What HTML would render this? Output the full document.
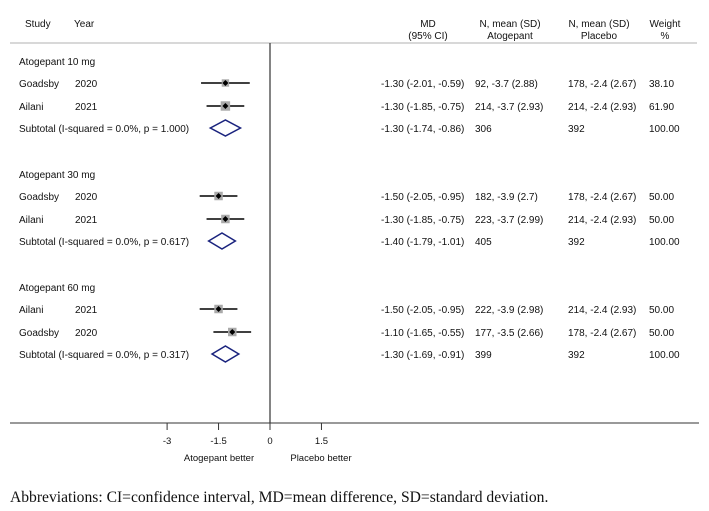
<!DOCTYPE html>
<html><head><meta charset="utf-8"><style>
body{margin:0;background:#fff;width:709px;height:506px;overflow:hidden}
svg text{font-family:"Liberation Sans",sans-serif;font-size:10px;fill:#111}
</style></head><body>
<svg width="709" height="506" id="plot">
<text x="25" y="27">Study</text>
<text x="74" y="27">Year</text>
<text x="428" y="27" text-anchor="middle">MD</text>
<text x="428" y="39" text-anchor="middle">(95% CI)</text>
<text x="510" y="27" text-anchor="middle">N, mean (SD)</text>
<text x="510" y="39" text-anchor="middle">Atogepant</text>
<text x="599" y="27" text-anchor="middle">N, mean (SD)</text>
<text x="599" y="39" text-anchor="middle">Placebo</text>
<text x="665" y="27" text-anchor="middle">Weight</text>
<text x="665" y="39" text-anchor="middle">%</text>
<line x1="10" y1="43" x2="697" y2="43" stroke="#ccc" stroke-width="1.5"/>
<line x1="270" y1="43" x2="270" y2="423" stroke="#333" stroke-width="1.2"/>
<line x1="10" y1="423" x2="699" y2="423" stroke="#333" stroke-width="1"/>
<text x="219" y="461" text-anchor="middle" style="font-size:9.5px">Atogepant better</text>
<text x="321" y="461" text-anchor="middle" style="font-size:9.5px">Placebo better</text>
<text x="10" y="502" style="font-family:'Liberation Serif',serif;font-size:15.6px">Abbreviations: CI=confidence interval, MD=mean difference, SD=standard deviation.</text>
<g id="rows"></g>
</svg>
<script>
const groups=["Atogepant 10 mg","Atogepant 30 mg","Atogepant 60 mg"];
const studies=["Goadsby","Ailani","Goadsby","Ailani","Ailani","Goadsby"];
const years=["2020","2021","2020","2021","2021","2020"];
const md=[-1.30,-1.30,-1.50,-1.30,-1.50,-1.10];
const lo=[-2.01,-1.85,-2.05,-1.85,-2.05,-1.65];
const hi=[-0.59,-0.75,-0.95,-0.75,-0.95,-0.55];
const atoTxt=["92, -3.7 (2.88)","214, -3.7 (2.93)","182, -3.9 (2.7)","223, -3.7 (2.99)","222, -3.9 (2.98)","177, -3.5 (2.66)"];
const plaTxt=["178, -2.4 (2.67)","214, -2.4 (2.93)","178, -2.4 (2.67)","214, -2.4 (2.93)","214, -2.4 (2.93)","178, -2.4 (2.67)"];
const weights=[38.10,61.90,50.00,50.00,50.00,50.00];
const subMd=[-1.30,-1.40,-1.30];
const subLo=[-1.74,-1.79,-1.69];
const subHi=[-0.86,-1.01,-0.91];
const subP=["1.000","0.617","0.317"];
const subAto=["306","405","399"];
const subPla=["392","392","392"];
const ticks=[-3,-1.5,0,1.5];

const NS="http://www.w3.org/2000/svg";
const g=document.getElementById('rows');
const xs=v=>270+v*34.3;
function el(t,a,txt){const e=document.createElementNS(NS,t);for(const k in a)e.setAttribute(k,a[k]);if(txt!==undefined)e.textContent=txt;g.appendChild(e);return e;}
const f=v=>v.toFixed(2);
ticks.forEach(t=>{
  const l=el('line',{x1:xs(t),x2:xs(t),y1:423,y2:430,stroke:'#333'});
  
  
  const tx=el('text',{x:xs(t),y:444,'text-anchor':'middle','style':'font-size:9.5px'},String(t));
  
  
});
groups.forEach((gn,gi)=>{
  const y0=65+gi*113;
  const h=el('text',{x:19,y:y0},gn);
  
  
  for(let k=0;k<2;k++){
    const i=gi*2+k, y=y0+22+k*23;
    const yc=y-4;
    const s=el('text',{x:19,y:y},studies[i]);
    
    
    const yr=el('text',{x:75,y:y},years[i]);
    
    
    const ci=el('line',{x1:xs(lo[i]),x2:xs(hi[i]),y1:yc,y2:yc,stroke:'#000','stroke-width':1.5});
    
    
    const sz=Math.sqrt(weights[i])*1.2;
    const sq=el('rect',{x:xs(md[i])-sz/2,y:yc-sz/2,width:sz,height:sz,fill:'#aaa'});
    
    
    const pt=el('path',{d:`M${xs(md[i])-3},${yc} l3,-3 l3,3 l-3,3z`,fill:'#000'});
    
    
    const m=el('text',{x:381,y:y},`${f(md[i])} (${f(lo[i])}, ${f(hi[i])})`);
    
    
    const a=el('text',{x:475,y:y},atoTxt[i]);
    
    
    const p=el('text',{x:568,y:y},plaTxt[i]);
    
    
    const w=el('text',{x:649,y:y},f(weights[i]));
    
    
  }
  const y=y0+67, yc=y-4;
  const st=el('text',{x:19,y:y},`Subtotal  (I-squared = 0.0%, p = ${subP[gi]})`);
  
  
  const d=el('path',{d:`M${xs(subLo[gi])},${yc} L${xs(subMd[gi])},${yc-8} L${xs(subHi[gi])},${yc} L${xs(subMd[gi])},${yc+8}Z`,fill:'none',stroke:'#1a237e','stroke-width':1.5});
  
  
  const m=el('text',{x:381,y:y},`${f(subMd[gi])} (${f(subLo[gi])}, ${f(subHi[gi])})`);
  
  
  const a=el('text',{x:475,y:y},subAto[gi]);
  
  
  const p=el('text',{x:568,y:y},subPla[gi]);
  
  
  const w=el('text',{x:649,y:y},"100.00");
  
  
});
</script>
</body></html>
